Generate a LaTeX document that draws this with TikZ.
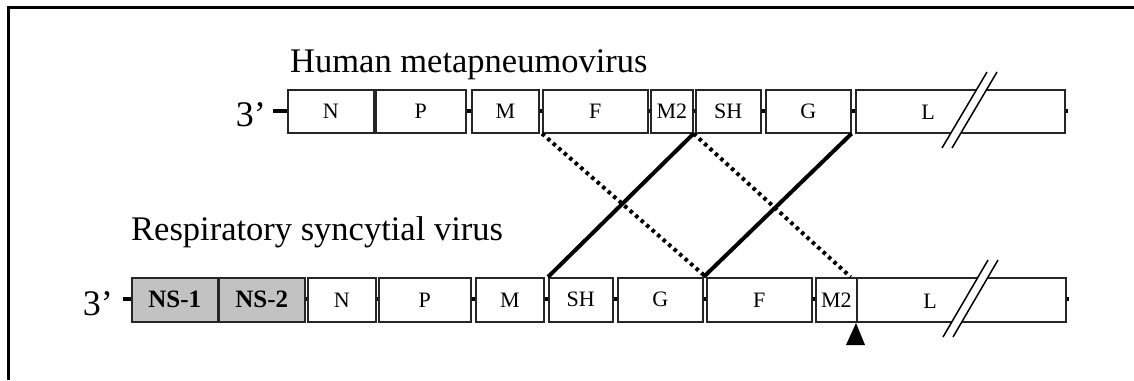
\documentclass[tikz,border=0pt]{standalone}
\usepackage{fontspec}
\setmainfont{Liberation Serif}
\begin{document}
\begin{tikzpicture}[x=1pt,y=-1pt,
  gene/.style={draw=black!85, line width=1.6pt, fill=white, anchor=north west, inner sep=0pt,
    font=\fontsize{22}{22}\selectfont},
  hrow/.style={gene, minimum height=43pt},
  rrow/.style={gene, minimum height=44pt},
  nsbox/.style={rrow, fill=black!24, font=\fontsize{25}{25}\selectfont\bfseries},
  lbl/.style={inner sep=0pt, font=\fontsize{22}{22}\selectfont},
  title/.style={inner sep=0pt, anchor=base west, font=\fontsize{34.5}{34.5}\selectfont},
  prime/.style={inner sep=0pt, anchor=base east, font=\fontsize{36}{36}\selectfont},
  spine/.style={line width=4pt},
  solidlink/.style={line width=4pt},
  dotlink/.style={line width=4pt, dash pattern=on 3.5pt off 3.8pt},
  brk/.style={line width=1.5pt}
]
\useasboundingbox (0,0) rectangle (1134,380);
% frame
\draw[line width=3pt] (8.7,380) -- (8.7,7) -- (1134,7);

% titles
\node[title] (htitle) at (290,72) {Human metapneumovirus};
\node[title] (rtitle) at (131,240.5) {Respiratory syncytial virus};
\node[prime] (h3) at (266,126) {3’};
\node[prime] (r3) at (113,315) {3’};

% spines
\coordinate (h0) at (273,110.5);
\coordinate (h1) at (1068,110.5);
\coordinate (r0) at (123,299);
\coordinate (r1) at (1069,299);
\draw[spine] (h0) -- (h1);
\draw[spine] (r0) -- (r1);

% HMPV genes
\node[hrow, minimum width=86pt] (hN) at (287,89) {N};
\node[hrow, minimum width=90pt] (hP) at (375,89) {P};
\node[hrow, minimum width=67pt] (hM) at (471,89) {M};
\node[hrow, minimum width=105pt] (hF) at (542,89) {F};
\node[hrow, minimum width=42pt] (hM2) at (650,89) {M2};
\node[hrow, minimum width=65pt] (hSH) at (695,89) {SH};
\node[hrow, minimum width=85pt] (hG) at (765,89) {G};
\node[hrow, minimum width=209pt] (hL) at (855,89) {};
\node[lbl] (hLt) at (928,112) {L};

% RSV genes
\node[nsbox, minimum width=86pt] (rNS1) at (131,277) {NS-1};
\node[nsbox, minimum width=86pt] (rNS2) at (218,277) {NS-2};
\node[rrow, minimum width=68pt] (rN) at (307,277) {N};
\node[rrow, minimum width=92pt] (rP) at (378,277) {P};
\node[rrow, minimum width=68pt] (rM) at (475,277) {M};
\node[rrow, minimum width=64pt] (rSH) at (548,277) {SH};
\node[rrow, minimum width=85pt] (rG) at (617,277) {G};
\node[rrow, minimum width=105pt] (rF) at (706,277) {F};
\node[rrow, minimum width=209pt] (rL) at (856,277) {};
\node[rrow, minimum width=41pt] (rM2) at (815,277) {M2};
\node[lbl] (rLt) at (930,301) {L};

% break marks
\fill[white] (942,148) -- (987,72) -- (997,72) -- (952,148) -- cycle;
\draw[brk] (942,148) -- (987,72) (952,148) -- (997,72);
\fill[white] (943,337) -- (988,260) -- (998,260) -- (953,337) -- cycle;
\draw[brk] (943,337) -- (988,260) (953,337) -- (998,260);

% rearrangement links
\draw[dotlink] (hF.south west) -- (rF.north west);
\draw[dotlink] (hM2.south east) -- ([xshift=-7pt]rM2.north east);
\draw[solidlink] (hM2.south east) -- (rSH.north west);
\draw[solidlink] (hG.south east) -- (rG.north east);

% arrowhead marker
\fill (846,345) -- (856,323) -- (865,345) -- cycle;
\end{tikzpicture}
\end{document}
